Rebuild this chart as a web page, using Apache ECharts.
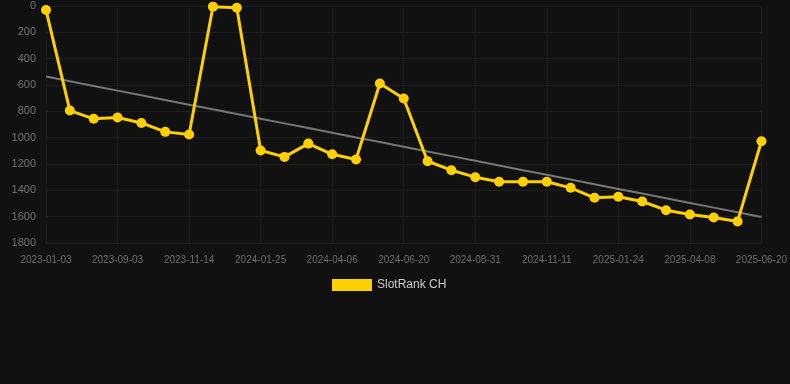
<!DOCTYPE html>
<html>
<head>
<meta charset="utf-8">
<script src="https://cdn.jsdelivr.net/npm/echarts@6/dist/echarts.min.js"></script>
<style>
  html, body { margin: 0; padding: 0; background: #111111; }
  #main { width: 790px; height: 384px; }
</style>
</head>
<body>
<div id="main"></div>
<script>
var dates = [
	'2023-01-03', '2023-07-17', '2023-08-10', '2023-09-03', '2023-09-27', '2023-10-21',
	'2023-11-14', '2023-12-08', '2024-01-01', '2024-01-25', '2024-02-18', '2024-03-13',
	'2024-04-06', '2024-05-01', '2024-05-26', '2024-06-20', '2024-07-14', '2024-08-07',
	'2024-08-31', '2024-09-24', '2024-10-18', '2024-11-11', '2024-12-06', '2024-12-30',
	'2025-01-24', '2025-02-17', '2025-03-14', '2025-04-08', '2025-05-02', '2025-05-26',
	'2025-06-20'
];
var ranks = [
	30, 794, 857, 847, 888, 956,
	976, 5, 13, 1098, 1146, 1045,
	1126, 1166, 589, 703, 1179, 1247,
	1300, 1335, 1335, 1335, 1381, 1457,
	1449, 1485, 1551, 1583, 1606, 1636,
	1027
];
var yTicks = [0, 200, 400, 600, 800, 1000, 1200, 1400, 1600, 1800];

// linear trend over the ranks
function trendLine(vals) {
	var n = vals.length, sx = 0, sy = 0, sxy = 0, sxx = 0;
	for (var i = 0; i < n; i++) {
		sx += i; sy += vals[i]; sxy += i * vals[i]; sxx += i * i;
	}
	var b = (n * sxy - sx * sy) / (n * sxx - sx * sx);
	var a = (sy - b * sx) / n;
	var out = [];
	for (var j = 0; j < n; j++) out.push(+(a + b * j).toFixed(1));
	return out;
}

var myChart = echarts.init(document.getElementById('main'));
var option = {
	backgroundColor: '#111111',
	animation: false,
	grid: {
		left: 46,
		right: 28,
		top: 6,
		bottom: 141
	},
	legend: {
		data: ['SlotRank CH'],
		top: 274,
		left: 327,
		itemWidth: 40,
		itemHeight: 12,
		itemGap: 6,
		icon: 'rect',
		textStyle: { color: '#cccccc', fontSize: 12, fontFamily: 'Liberation Sans, Arial' }
	},
	xAxis: {
		type: 'category',
		data: dates,
		boundaryGap: false,
		axisLine: { show: false },
		axisTick: { show: false },
		axisLabel: {
			interval: 2,
			color: '#6e6e6e',
			fontSize: 10,
			margin: 12,
			fontFamily: 'Liberation Sans, Arial'
		},
		splitLine: {
			show: true,
			interval: 2,
			lineStyle: { color: '#1c1c1c', width: 1 }
		}
	},
	yAxis: {
		type: 'value',
		inverse: true,
		min: yTicks[0],
		max: yTicks[yTicks.length - 1],
		interval: 200,
		axisLine: { show: false },
		axisTick: { show: false },
		axisLabel: {
			color: '#747474',
			fontSize: 11,
			margin: 10,
			fontFamily: 'Liberation Sans, Arial',
			formatter: function (v) { return String(v); }
		},
		splitLine: {
			lineStyle: { color: '#1f1f1f', width: 1 }
		}
	},
	series: [
		{
			name: 'SlotRank CH',
			type: 'line',
			data: ranks,
			color: '#ffd000',
			symbol: 'circle',
			symbolSize: 10,
			lineStyle: { color: '#ffd000', width: 3 },
			itemStyle: { color: '#ffd000' },
			z: 3
		},
		{
			name: 'trend',
			type: 'line',
			data: trendLine(ranks),
			symbol: 'none',
			lineStyle: { color: '#777777', width: 2 },
			z: 2
		}
	]
};
myChart.setOption(option);
</script>
</body>
</html>
